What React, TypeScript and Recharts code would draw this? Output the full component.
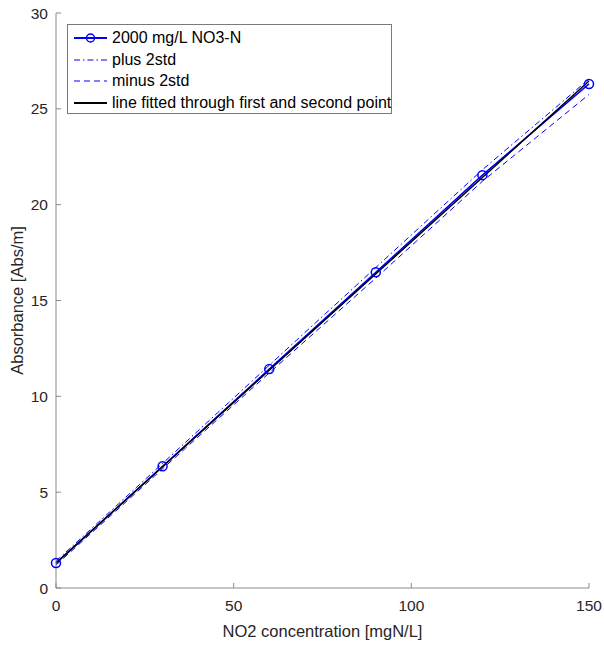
import { LineChart, Line, XAxis, YAxis } from "recharts"

// NO2 concentration [mgN/L]
const concentration = [0, 30, 60, 90, 120, 150]
// 2000 mg/L NO3-N measurements
const measured = [1.3, 6.35, 11.42, 16.47, 21.54, 26.3]
const plus2std = [1.4, 6.5, 11.62, 16.72, 21.82, 26.55]
const minus2std = [1.2, 6.22, 11.22, 16.17, 21.22, 25.75]
// line through first and second point, only its ends are drawn
const fitted = [1.3, null, null, null, null, 26.45]

const xTicks = [0, 50, 100, 150]
const yTicks = [0, 5, 10, 15, 20, 25, 30]

const legendItems = [
  { name: "2000 mg/L NO3-N", color: "#0000ff", width: 2, dash: "", marker: true },
  { name: "plus 2std", color: "#0000ff", width: 1, dash: "6 3 1.5 3", marker: false },
  { name: "minus 2std", color: "#0000ff", width: 1, dash: "6 4", marker: false },
  { name: "line fitted through first and second point", color: "#000000", width: 2, dash: "", marker: false },
]

const data = concentration.map((x, i) => ({
  x,
  measured: measured[i],
  plus: plus2std[i],
  minus: minus2std[i],
  fitted: fitted[i],
}))

const FONT = "'Liberation Sans', Arial, Helvetica, sans-serif"
const AXIS = "#8a8a8a"
const TEXT = "#262626"

const tickStyle = { fill: TEXT, fontSize: 15.5, fontFamily: FONT }
const titleStyle = { fill: TEXT, fontSize: 16.5, fontFamily: FONT }

const ChartLegend = () => (
  <div
    style={{
      position: "absolute",
      left: 67,
      top: 24,
      width: 325,
      height: 90,
      boxSizing: "border-box",
      border: "1px solid #7a7a7a",
      background: "#fff",
      fontFamily: FONT,
      fontSize: 16,
      color: "#000",
    }}
  >
    {legendItems.map((item, i) => (
      <div
        key={item.name}
        style={{
          position: "absolute",
          left: 5,
          top: 2 + i * 21.7,
          height: 22,
          display: "flex",
          alignItems: "center",
          whiteSpace: "nowrap",
        }}
      >
        <svg width={36} height={12} style={{ marginRight: 3 }}>
          <line
            x1={1}
            y1={6}
            x2={34}
            y2={6}
            stroke={item.color}
            strokeWidth={item.width}
            strokeDasharray={item.dash}
          />
          {item.marker && <circle cx={17.5} cy={6} r={4} fill="none" stroke={item.color} strokeWidth={1.5} />}
        </svg>
        <span>{item.name}</span>
      </div>
    ))}
  </div>
)

export default function App() {
  return (
    <div style={{ position: "absolute", left: 0, top: 0, width: 604, height: 646, background: "#fff" }}>
      <LineChart width={604} height={646} data={data} margin={{ top: 13, right: 15, left: 0, bottom: 0 }}>
        <XAxis
          xAxisId="bottom"
          dataKey="x"
          type="number"
          domain={[0, 150]}
          ticks={xTicks}
          height={58}
          tickSize={-5}
          tickMargin={17}
          axisLine={{ stroke: AXIS }}
          tickLine={{ stroke: AXIS }}
          tick={tickStyle}
          label={{
            value: "NO2 concentration [mgN/L]",
            position: "insideBottom",
            offset: 9,
            style: titleStyle,
          }}
        />
        <XAxis
          xAxisId="top"
          orientation="top"
          dataKey="x"
          type="number"
          domain={[0, 150]}
          ticks={xTicks}
          height={0}
          tickSize={-5}
          tick={false}
          axisLine={{ stroke: AXIS }}
          tickLine={{ stroke: AXIS }}
        />
        <YAxis
          yAxisId="left"
          type="number"
          domain={[0, 30]}
          ticks={yTicks}
          width={56}
          tickSize={-5}
          tickMargin={13}
          axisLine={{ stroke: AXIS }}
          tickLine={{ stroke: AXIS }}
          tick={tickStyle}
          label={{
            value: "Absorbance [Abs/m]",
            angle: -90,
            position: "insideLeft",
            offset: 17,
            style: { ...titleStyle, textAnchor: "middle" },
          }}
        />
        <YAxis
          yAxisId="right"
          orientation="right"
          type="number"
          domain={[0, 30]}
          ticks={yTicks}
          width={0}
          tickSize={-5}
          tick={false}
          axisLine={{ stroke: AXIS }}
          tickLine={{ stroke: AXIS }}
        />
        <Line
          xAxisId="bottom"
          yAxisId="left"
          dataKey="measured"
          stroke="#0000ff"
          strokeWidth={1.5}
          dot={{ r: 4.5, fill: "none", stroke: "#0000ff", strokeWidth: 1.5 }}
          isAnimationActive={false}
        />
        <Line
          xAxisId="bottom"
          yAxisId="left"
          dataKey="plus"
          stroke="#0000ff"
          strokeWidth={1}
          strokeDasharray="6 3 1.5 3"
          dot={false}
          isAnimationActive={false}
        />
        <Line
          xAxisId="bottom"
          yAxisId="left"
          dataKey="minus"
          stroke="#0000ff"
          strokeWidth={1}
          strokeDasharray="6 4"
          dot={false}
          isAnimationActive={false}
        />
        <Line
          xAxisId="bottom"
          yAxisId="left"
          dataKey="fitted"
          stroke="#000000"
          strokeWidth={1.5}
          connectNulls
          dot={false}
          isAnimationActive={false}
        />
      </LineChart>
      <ChartLegend />
    </div>
  )
}
